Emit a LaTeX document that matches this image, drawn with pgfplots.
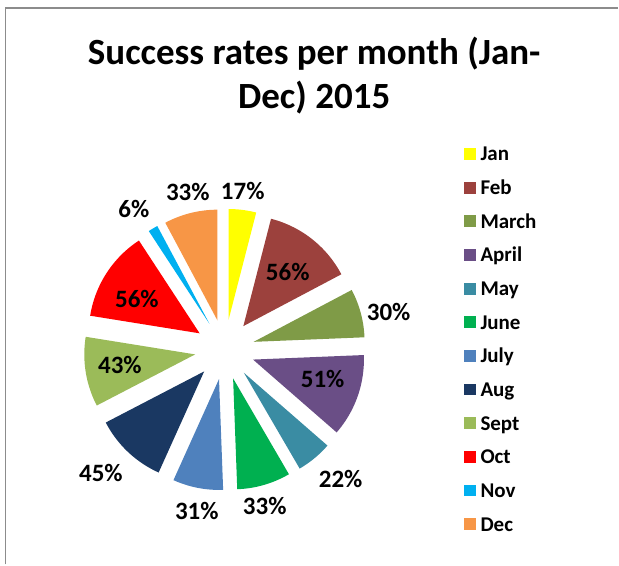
\documentclass[border=0pt]{standalone}
\usepackage{pgfplots}
\pgfplotsset{compat=1.18}
\usepackage{pgfplotstable}
\usepackage{fontspec}
\setmainfont{Carlito}

\definecolor{cJan}{HTML}{FFFF00}
\definecolor{cFeb}{HTML}{9C413D}
\definecolor{cMar}{HTML}{7F9B47}
\definecolor{cApr}{HTML}{6A4E86}
\definecolor{cMay}{HTML}{3A8CA3}
\definecolor{cJun}{HTML}{00B050}
\definecolor{cJul}{HTML}{4F81BD}
\definecolor{cAug}{HTML}{1A3862}
\definecolor{cSep}{HTML}{9BBB59}
\definecolor{cOct}{HTML}{FF0000}
\definecolor{cNov}{HTML}{00B0F0}
\definecolor{cDec}{HTML}{F79646}
\definecolor{frame}{HTML}{8C8C8C}

% value = success rate (%); lx, ly = position of the data label
\pgfplotstableread{
name  value colour lx  ly
Jan   17    cJan   243 191
Feb   56    cFeb   288 272
March 30    cMar   389 312
April 51    cApr   323 379
May   22    cMay   341 479
June  33    cJun   265 507
July  31    cJul   197 512
Aug   45    cAug   101 473
Sept  43    cSep   120 365
Oct   56    cOct   137 299
Nov   6     cNov   134 209
Dec   33    cDec   188 192
}\datatable

\tikzset{lbl/.style={font=\fontsize{25}{30}\selectfont\bfseries, inner sep=0pt}}

\begin{document}
\begin{tikzpicture}
\begin{axis}[
  hide axis, scale only axis,
  width=619pt, height=565pt,
  xmin=0, xmax=619, ymin=0, ymax=565,
  y dir=reverse, clip=false,
  legend cell align=left,
  legend style={draw=none, fill=none, inner sep=0pt, outer sep=0pt,
    at={(axis cs:464,146)}, anchor=north west,
    row sep=13.7pt,
    font=\fontsize{21}{21}\selectfont\bfseries,
    nodes={inner sep=0pt, text height=15pt, text depth=5pt},
    /tikz/every odd column/.append style={column sep=5pt}},
  legend image code/.code={\fill[#1] (0pt,-4pt) rectangle (12pt,8pt);},
]
\path (axis cs:0,0) rectangle (axis cs:619,565);
\def\cx{225}\def\cy{350}\def\rad{111}\def\expl{30}
\def\total{0}
\pgfplotsforeachungrouped \i in {0,...,11}{%
  \pgfplotstablegetelem{\i}{value}\of\datatable
  \pgfmathsetmacro\total{\total+\pgfplotsretval}%
}
\def\cum{0}
\pgfplotsforeachungrouped \i in {0,...,11}{%
  \pgfplotstablegetelem{\i}{name}\of\datatable \let\nm\pgfplotsretval
  \pgfplotstablegetelem{\i}{value}\of\datatable \let\val\pgfplotsretval
  \pgfplotstablegetelem{\i}{colour}\of\datatable \let\col\pgfplotsretval
  \pgfplotstablegetelem{\i}{lx}\of\datatable \let\lx\pgfplotsretval
  \pgfplotstablegetelem{\i}{ly}\of\datatable \let\ly\pgfplotsretval
  \pgfmathsetmacro\aS{360*(\cum/\total)}%
  \pgfmathsetmacro\cum{\cum+\val}%
  \pgfmathsetmacro\aE{360*(\cum/\total)}%
  \pgfmathsetmacro\aM{(\aS+\aE)/2}%
  \pgfmathsetmacro\ax{\cx+\expl*sin(\aM)}%
  \pgfmathsetmacro\ay{\cy-\expl*cos(\aM)}%
  \pgfmathtruncatemacro\ns{ceil((\aE-\aS)/2)+2}%
  \xdef\pts{(\ax,\ay)}%
  \foreach \k in {0,...,\ns}{%
    \pgfmathsetmacro\aT{\aS+(\aE-\aS)*(\k/\ns)}%
    \pgfmathsetmacro\px{\ax+\rad*sin(\aT)}%
    \pgfmathsetmacro\py{\ay-\rad*cos(\aT)}%
    \xdef\pts{\pts (\px,\py)}%
  }%
  \edef\doplot{%
    \noexpand\addplot[fill=\col, draw=none, mark=none] coordinates {\pts};
    \noexpand\addlegendentry{\nm}
    \noexpand\node[lbl] at (axis cs:\lx,\ly) {\val\noexpand\%};}%
  \doplot
}
\node[font=\fontsize{37}{44}\selectfont\bfseries, anchor=base, inner sep=0pt] at (axis cs:314.5,65) {Success rates per month (Jan-};
\node[font=\fontsize{37}{44}\selectfont\bfseries, anchor=base, inner sep=0pt] at (axis cs:314.5,109) {Dec) 2015};
\draw[color=frame, line width=1.3pt] (axis cs:5.5,565) -- (axis cs:5.5,8) -- (axis cs:619,8);
\end{axis}
\end{tikzpicture}
\end{document}
